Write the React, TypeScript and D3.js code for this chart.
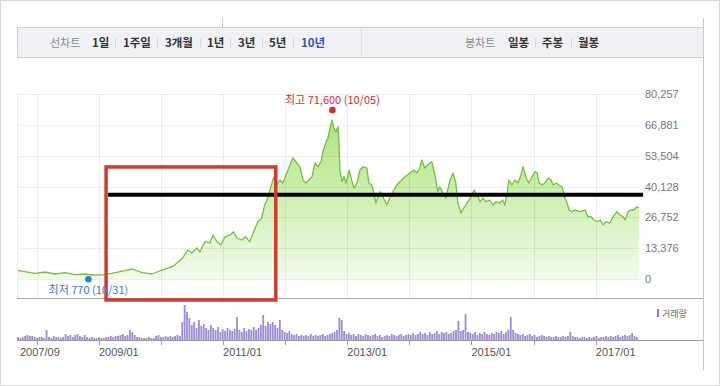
import React from "react";
import * as d3 from "d3";

// ---------- data ----------
const priceDates = [
  "2007-09-13","2007-10-23","2007-12-21","2008-02-18","2008-04-17","2008-06-16","2008-08-13","2008-10-12","2008-10-28",
  "2008-12-09","2009-02-06","2009-04-06","2009-06-04","2009-07-15","2009-09-12","2009-11-09","2010-01-07","2010-03-07",
  "2010-03-22","2010-05-09","2010-06-07","2010-07-01","2010-07-31","2010-08-18","2010-09-16","2010-10-15","2010-11-03",
  "2010-11-26","2010-12-19","2011-01-12","2011-02-12","2011-03-04","2011-03-22","2011-04-21","2011-05-13","2011-06-06",
  "2011-06-30","2011-07-24","2011-08-16","2011-09-03","2011-09-21","2011-10-09","2011-10-27","2011-11-13","2011-12-01",
  "2011-12-19","2012-01-06","2012-01-29","2012-02-16","2012-03-10","2012-03-28","2012-04-15","2012-05-02","2012-05-19",
  "2012-06-07","2012-06-25","2012-07-12","2012-07-30","2012-08-11","2012-08-29","2012-09-09","2012-09-21","2012-10-03",
  "2012-10-14","2012-10-26","2012-11-07","2012-11-13","2012-11-19","2012-12-01","2012-12-12","2012-12-24","2013-01-05",
  "2013-01-11","2013-01-29","2013-02-09","2013-02-27","2013-03-16","2013-04-03","2013-04-26","2013-05-07","2013-05-25",
  "2013-06-06","2013-06-18","2013-07-11","2013-07-29","2013-08-21","2013-09-08","2013-09-26","2013-10-19","2013-11-06",
  "2013-12-05","2014-01-04","2014-01-28","2014-02-14","2014-03-03","2014-03-15","2014-04-01","2014-05-01","2014-05-13",
  "2014-05-31","2014-06-16","2014-06-28","2014-07-16","2014-08-03","2014-08-28","2014-09-14","2014-10-01","2014-10-13",
  "2014-10-31","2014-11-17","2014-12-11","2015-01-04","2015-01-16","2015-02-03","2015-02-21","2015-03-08","2015-03-26",
  "2015-04-19","2015-05-07","2015-05-25","2015-06-16","2015-07-04","2015-07-16","2015-07-28","2015-08-09","2015-08-27",
  "2015-09-13","2015-10-01","2015-10-19","2015-10-31","2015-11-18","2015-12-05","2015-12-23","2016-01-10","2016-01-22",
  "2016-02-03","2016-02-20","2016-03-08","2016-03-26","2016-04-13","2016-04-25","2016-05-13","2016-05-29","2016-06-16",
  "2016-06-28","2016-07-16","2016-07-28","2016-08-13","2016-08-31","2016-09-30","2016-10-30","2016-11-16","2016-12-04",
  "2016-12-22","2017-01-09","2017-01-27","2017-02-13","2017-03-01","2017-03-25","2017-04-12","2017-05-05","2017-05-23",
  "2017-06-10","2017-06-22","2017-07-10","2017-07-25","2017-08-13","2017-08-31","2017-09-12"
];
const priceValues = [
  3600,3170,2470,3040,2170,2730,1870,2170,1950,
  1740,1870,2730,3600,4340,2730,2170,3900,5340,
  6070,9110,12580,11280,13450,11710,16180,15620,19090,
  16180,14750,18350,19090,20520,17790,16920,18350,16180,
  20520,24860,26460,32100,35140,40040,44380,40780,42950,
  41640,45110,49450,52490,50320,48720,42950,41640,42950,
  44380,50320,48720,50890,55220,59560,61170,65500,68970,
  65500,63900,66070,58130,46550,42210,44380,41640,45110,
  47280,42210,39480,41640,47280,48720,48150,41640,40780,
  37310,32970,37870,35700,32100,35140,37870,40780,42210,
  44380,45980,47280,45980,48150,51620,48150,50320,50890,
  45110,37870,40040,37310,35140,42950,45980,41640,32970,
  28630,30800,33530,36440,38610,36440,33530,35140,33530,
  34270,32100,33530,32970,34270,32100,36440,42950,40780,
  42950,41640,45110,48720,43810,41640,44380,46550,45980,
  41640,40780,41640,43810,42950,40780,41640,40780,40040,
  36440,32970,29930,29190,29930,29190,29930,27030,27030,
  25590,24860,25590,23430,24860,24290,27030,29190,27760,
  27030,25590,29190,29930,29930,31360,30800
];
// biweekly trading volume (arbitrary units, 만주 x 10)
const volumeStart = "2007-09-13";
const volumeValues = [
  3,2,3,4,5,4,4,3,2,3,
  3,2,10,3,2,4,3,3,2,3,
  6,4,5,3,5,6,4,3,5,3,
  2,3,2,2,3,2,2,3,3,4,
  3,4,4,5,6,4,5,10,8,5,
  3,3,2,2,2,3,2,2,4,5,
  3,3,4,3,4,3,4,5,4,18,
  35,28,22,15,18,12,20,14,16,12,
  10,15,12,10,13,8,11,9,12,10,
  9,11,23,10,8,12,9,11,10,13,
  10,12,15,25,14,18,16,18,15,12,
  20,10,8,7,9,6,5,6,4,5,
  4,5,4,6,4,5,4,5,6,4,
  5,6,7,8,10,22,20,9,6,7,
  5,6,4,6,5,4,6,5,4,5,
  6,4,5,3,4,5,4,6,5,4,
  5,6,4,5,6,5,7,5,6,8,
  6,7,5,8,6,7,9,6,8,7,
  8,6,7,9,10,19,9,10,26,8,
  7,6,8,5,7,6,8,6,5,7,
  6,8,7,9,6,8,10,23,10,7,
  6,5,6,4,5,6,4,5,3,4,
  5,4,3,4,3,3,4,3,3,4,
  3,4,8,4,3,3,2,3,3,2,
  3,2,3,4,2,3,3,4,3,4,
  3,4,5,3,4,5,4,5,7,4,3
];
const yMax = 80257;
const yTickValues = [0, 13376, 26752, 40128, 53504, 66881, 80257];
const gridYears = ["2008-01-01","2009-01-01","2010-01-01","2011-01-01","2012-01-01","2013-01-01","2014-01-01","2015-01-01","2016-01-01","2017-01-01"];
const xLabelDates = ["2007-09-13","2009-01-01","2011-01-01","2013-01-01","2015-01-01","2017-01-01"];
const xLabelTexts = ["2007/09","2009/01","2011/01","2013/01","2015/01","2017/01"];
const highPoint = { date: "2012-10-05", value: 71600, label: "최고 71,600 (10/05)" };
const lowPoint = { date: "2008-10-31", value: 770, label: "최저 770 (10/31)" };
const boxDates = ["2009-02-12", "2011-11-07"];
const boxValues = [48600, -9100];
const refLineDates = ["2009-02-24", "2017-10-06"];
const refLineValue = 36600;
const lineTabs = ["1일","1주일","3개월","1년","3년","5년","10년"];
const candleTabs = ["일봉","주봉","월봉"];

// ---------- layout ----------
const lineTabX = [92,123,165,207,238,269,301];
const lineSepX = [115,157,200,230,262,293];
const candleTabX = [508,542,578];
const candleSepX = [535,571];

const KR = "'Noto Sans CJK KR','Noto Sans',sans-serif";
const NUM = "'Liberation Sans',Arial,sans-serif";

export default function App() {
  const parse = d3.timeParse("%Y-%m-%d");
  const x = d3.scaleTime().domain([parse("2007-09-13")!, parse("2017-09-18")!]).range([18, 640]);
  const y = d3.scaleLinear().domain([0, yMax]).range([279, 94]);
  const vy = d3.scaleLinear().domain([0, 35]).range([340, 305]);

  const pts = priceDates.map((d, i) => ({ date: parse(d)!, v: priceValues[i] }));
  const line = d3.line<any>().x(d => x(d.date)).y(d => y(d.v));
  const area = d3.area<any>().x(d => x(d.date)).y0(y(0)).y1(d => y(d.v));

  const vStart = parse(volumeStart)!;
  const vols = volumeValues.map((v, i) => ({ date: d3.timeDay.offset(vStart, 14 * i), v }));

  const hx = x(parse(highPoint.date)!);
  const hy = y(highPoint.value) - 4;
  const lx = x(parse(lowPoint.date)!);
  const ly = y(lowPoint.value) + 2;

  const bx0 = x(parse(boxDates[0])!), bx1 = x(parse(boxDates[1])!);
  const by0 = y(boxValues[0]), by1 = y(boxValues[1]);

  return (
    <svg width={720} height={386} style={{ position: "fixed", left: 0, top: 0, background: "#fff" }}>
      <defs>
        <linearGradient id="gfill" gradientUnits="userSpaceOnUse" x1="0" y1={y(yMax)} x2="0" y2={y(0)}>
          <stop offset="0" stopColor="#a6dd78" />
          <stop offset="0.5" stopColor="#c9eeaa" />
          <stop offset="1" stopColor="#f3fbec" />
        </linearGradient>
      </defs>
      <rect x={0.5} y={0.5} width={719} height={385} fill="#fff" stroke="#d8d8d8" />
      {/* widget frame */}
      <line x1={222.5} x2={222.5} y1={18} y2={27} stroke="#c8c8c8" />
      <line x1={703.5} x2={703.5} y1={18} y2={370} stroke="#c8c8c8" />
      {/* toolbar */}
      <rect x={17.5} y={27.5} width={686} height={30} fill="#eff1f5" stroke="#c9cdd4" />
      <line x1={361.5} x2={361.5} y1={28} y2={57} stroke="#dde0e6" />
      <text x={50} y={47} fontFamily={KR} fontSize={11} fill="#8a8a8a">선차트</text>
      {lineTabs.map((t, i) => (
        <text key={t} x={lineTabX[i]} y={47} fontFamily={KR} fontSize={11.5} fontWeight="bold"
          fill={i === lineTabs.length - 1 ? "#2f55b0" : "#333"}>{t}</text>
      ))}
      {lineSepX.map((sx, i) => (
        <line key={i} x1={sx + 0.5} x2={sx + 0.5} y1={38} y2={48} stroke="#d6d8dc" />
      ))}
      <text x={465} y={47} fontFamily={KR} fontSize={11} fill="#8a8a8a">봉차트</text>
      {candleTabs.map((t, i) => (
        <text key={t} x={candleTabX[i]} y={47} fontFamily={KR} fontSize={11.5} fontWeight="bold" fill="#333">{t}</text>
      ))}
      {candleSepX.map((sx, i) => (
        <line key={i} x1={sx + 0.5} x2={sx + 0.5} y1={38} y2={48} stroke="#d6d8dc" />
      ))}

      {/* price area */}
      <path d={area(pts) || ""} fill="url(#gfill)" />
      {/* grid */}
      {yTickValues.map(v => (
        <line key={v} x1={18} x2={640} y1={Math.round(y(v)) + 0.5} y2={Math.round(y(v)) + 0.5} stroke="#000" strokeOpacity={0.07} />
      ))}
      <line x1={17.5} x2={17.5} y1={94} y2={298} stroke="#000" strokeOpacity={0.07} />
      {gridYears.map(d => {
        const gx = Math.round(x(parse(d)!)) + 0.5;
        return <line key={d} x1={gx} x2={gx} y1={94} y2={298} stroke="#000" strokeOpacity={0.07} />;
      })}
      <path d={line(pts) || ""} fill="none" stroke="#74c23a" strokeWidth={1.3} strokeLinejoin="round" />
      {yTickValues.map(v => (
        <text key={v} x={645} y={y(v) + 4} fontFamily={NUM} fontSize={11} fill="#777">{d3.format(",")(v)}</text>
      ))}
      <line x1={17} x2={703} y1={298.5} y2={298.5} stroke="#a8a8a8" />

      {/* volume */}
      {vols.map((d, i) => (
        <rect key={i} x={x(d.date) - 0.9} y={vy(d.v)} width={1.8} height={vy(0) - vy(d.v)} fill="#9c8bd6" />
      ))}
      <line x1={17} x2={703} y1={340.5} y2={340.5} stroke="#9a9a9a" />
      {gridYears.map(d => {
        const gx = Math.round(x(parse(d)!)) + 0.5;
        return <line key={d} x1={gx} x2={gx} y1={340} y2={345} stroke="#9a9a9a" />;
      })}
      {xLabelDates.map((d, i) => (
        <text key={d} x={x(parse(d)!) + (i === 0 ? 2 : 0)} y={356} fontFamily={NUM} fontSize={11} fill="#555">{xLabelTexts[i]}</text>
      ))}
      <rect x={657} y={309} width={2} height={8} fill="#8e7cd0" />
      <text x={662} y={316.5} fontFamily={KR} fontSize={9} fill="#666">거래량</text>

      {/* annotations */}
      <line x1={x(parse(refLineDates[0])!)} x2={x(parse(refLineDates[1])!)} y1={y(refLineValue)} y2={y(refLineValue)} stroke="#000" strokeWidth={4} />
      <rect x={bx0} y={by0} width={bx1 - bx0} height={by1 - by0} fill="none" stroke="#d13b2b" strokeWidth={3.5} />
      <circle cx={hx} cy={hy} r={3.3} fill="#e3262e" />
      <text x={hx} y={hy - 6} textAnchor="middle" fontFamily={KR} fontSize={11} fill="#e3262e">{highPoint.label}</text>
      <circle cx={lx} cy={ly} r={3.3} fill="#2f7fd0" />
      <text x={lx} y={ly + 15} textAnchor="middle" fontFamily={KR} fontSize={11} fill="#3a7cc8">{lowPoint.label}</text>
    </svg>
  );
}
